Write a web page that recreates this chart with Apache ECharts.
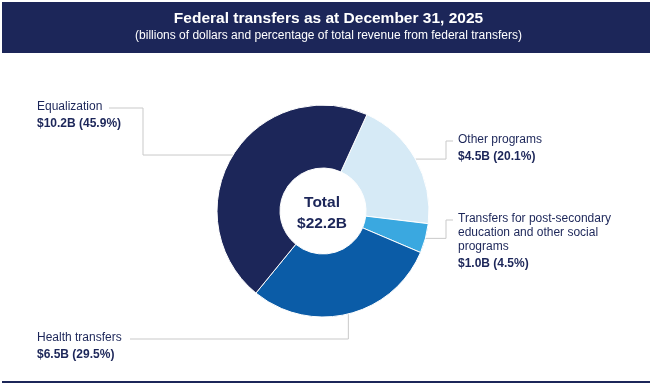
<!DOCTYPE html>
<html>
<head>
<meta charset="utf-8">
<script src="https://cdn.jsdelivr.net/npm/echarts@6/dist/echarts.min.js"></script>
<style>
html,body{margin:0;padding:0;background:#fff;}
#chart{width:657px;height:387px;}
</style>
</head>
<body>
<div id="chart"></div>
<script>
// ---- data ----
const categories = ['Other programs', 'Transfers for post-secondary education and other social programs', 'Health transfers', 'Equalization'];
const amounts = [4.5, 1.0, 6.5, 10.2];      // billions of dollars
const shares = [20.1, 4.5, 29.5, 45.9];     // % of total revenue from federal transfers
const totalAmount = 22.2;
const titleText = 'Federal transfers as at December 31, 2025';
const subtitleText = '(billions of dollars and percentage of total revenue from federal transfers)';

// ---- style / layout ----
const NAVY = '#1c2659';
const sliceColors = ['#d6eaf6', '#3aa8e0', '#0b5ca7', '#1c2659'];
const CX = 323, CY = 211, R_OUT = 106, R_IN = 43;
const START = 65.5; // echarts startAngle
const NARROW = "'Liberation Sans Narrow','Arial Narrow','Liberation Sans',Arial,sans-serif";
const FONT = "'Liberation Sans',Arial,sans-serif";

// label layout per slice: text box top-left and leader-line bends
const labelPos = [
  {x: 458, y: 133, side: 'right', turnX: 446, nameY: 141, endX: 453},
  {x: 458, y: 212, side: 'right', turnX: 446, nameY: 220, endX: 453},
  {x: 37,  y: 331, side: 'bottomLeft', nameY: 339, endX: 130},
  {x: 37,  y: 100, side: 'left', turnX: 143, nameY: 108, endX: 109}
];

function wrap(text, maxChars) {
  const words = text.split(' ');
  const lines = []; let cur = '';
  words.forEach(w => {
    if (cur && (cur + ' ' + w).length > maxChars) { lines.push(cur); cur = w; }
    else cur = cur ? cur + ' ' + w : w;
  });
  if (cur) lines.push(cur);
  return lines;
}

const sumShares = shares.reduce((a, b) => a + b, 0);
function edgePoint(i) {
  let before = 0;
  for (let k = 0; k < i; k++) before += shares[k];
  const startCW = 90 - START;
  const a = (startCW + 360 * (before + shares[i] / 2) / sumShares) * Math.PI / 180;
  return [CX + R_OUT * Math.sin(a), CY - R_OUT * Math.cos(a)];
}

const chart = echarts.init(document.getElementById('chart'), null, {renderer: 'canvas'});
chart.setOption({
  animation: false,
  backgroundColor: '#ffffff',
  title: {
    text: titleText,
    subtext: subtitleText,
    left: 'center',
    top: 10,
    padding: 0,
    itemGap: 1,
    textStyle: {color: '#ffffff', fontSize: 15.5, fontWeight: 'bold', fontFamily: NARROW, lineHeight: 18},
    subtextStyle: {color: '#ffffff', fontSize: 12, fontFamily: NARROW, lineHeight: 14}
  },
  graphic: [
    {type: 'rect', z: -10, shape: {x: 2, y: 2, width: 648, height: 51}, style: {fill: NAVY}},
    {type: 'rect', z: -10, shape: {x: 2, y: 381, width: 648, height: 2}, style: {fill: NAVY}},
    {type: 'text', x: CX - 1, y: 213, z: 10,
     style: {text: 'Total\n$' + totalAmount.toFixed(1) + 'B', align: 'center', verticalAlign: 'middle',
             font: 'bold 15.5px ' + FONT, lineHeight: 21, fill: NAVY}}
  ],
  series: [{
    type: 'pie',
    center: [CX, CY],
    radius: [R_IN, R_OUT],
    startAngle: START,
    clockwise: true,
    avoidLabelOverlap: false,
    emphasis: {disabled: true},
    itemStyle: {borderColor: '#ffffff', borderWidth: 1},
    label: {
      show: true,
      position: 'outside',
      formatter: function (p) {
        const i = p.dataIndex;
        const lines = wrap(categories[i], 28).map(l => '{n|' + l + '}');
        return lines.join('\n') + '\n{v|$' + amounts[i].toFixed(1) + 'B (' + shares[i].toFixed(1) + '%)}';
      },
      rich: {
        n: {fontSize: 12, fontFamily: FONT, color: NAVY, lineHeight: 14},
        v: {fontSize: 12, fontFamily: FONT, fontWeight: 'bold', color: NAVY, lineHeight: 20}
      }
    },
    labelLine: {show: true, lineStyle: {color: '#c9c9c9', width: 1}},
    labelLayout: function (params) {
      const i = params.dataIndex;
      const L = labelPos[i];
      const e = edgePoint(i);
      let pts;
      if (L.side === 'bottomLeft') {
        pts = [e, [e[0], L.nameY], [L.endX, L.nameY]];
      } else {
        pts = [e, [L.turnX, e[1]], [L.turnX, L.nameY], [L.endX, L.nameY]];
      }
      return {x: L.x, y: L.y, align: 'left', verticalAlign: 'top', labelLinePoints: pts};
    },
    data: categories.map((c, i) => ({name: c, value: shares[i], itemStyle: {color: sliceColors[i]}}))
  }]
});
</script>
</body>
</html>
